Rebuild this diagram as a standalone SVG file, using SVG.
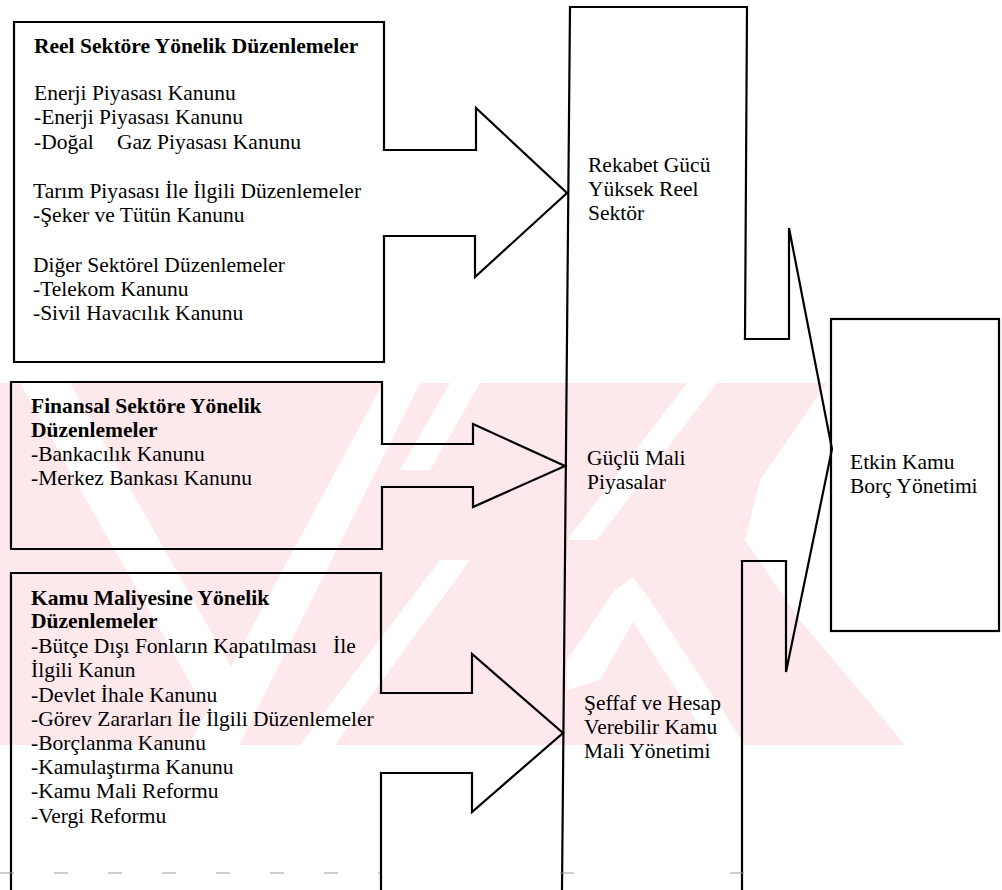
<svg xmlns="http://www.w3.org/2000/svg" width="1002" height="890" viewBox="0 0 1002 890">
<style>
.ln{fill:none;stroke:#000;stroke-width:2.2;stroke-linejoin:miter;stroke-linecap:square}
.t{font-family:"Liberation Serif","Times New Roman",serif;font-size:21.5px;fill:#000}
.b{font-weight:bold}
.wm{fill:#fde8ec}
.ws{fill:#ffffff}
.dash{fill:none;stroke:#9a9a9a;stroke-width:1;stroke-dasharray:14 40}
</style>
<defs>
<clipPath id="band"><rect x="0" y="383" width="1002" height="362"/></clipPath>
</defs>
<rect x="0" y="0" width="1002" height="890" fill="#fff"/>
<g id="watermark" clip-path="url(#band)">
<polygon class="wm" points="0,383 827,383 760,480 745,540 800,620 905,745 0,745"/>
<polygon class="ws" points="20,383 70,383 250,700 200,700"/>
<polygon class="ws" points="189,745 239,745 420,383 383,383"/>
<polygon class="ws" points="400,470 430,470 480,383 450,383"/>
<polygon class="ws" points="567,540 597,540 717,383 687,383"/>
<polygon class="ws" points="633,577 650,600 745,745 712,745 633,622 600,680 567,690 567,660 615,590"/>
<polygon class="ws" points="300,745 335,745 470,560 440,560"/>
</g>
<g id="connectors">
<path class="ln" d="M384,150 H476 V108 L567,193 L475,277 V236 H384"/>
<path class="ln" d="M382,444 H473 V424 L565,466 L473,507 V487 H382"/>
<path class="ln" d="M381,693 H472 V654 L563,733 L472,812 V773 H381"/>
<path class="ln" d="M745,339 H789 V228 L832,449 L786,672 V561 H742"/>
</g>
<g id="reel">
<path class="ln" d="M384,150 V22 H14 V362 H384 V236"/>
<text class="t b" x="34" y="53">Reel Sektöre Yönelik Düzenlemeler</text>
<text class="t" x="34" y="100">Enerji Piyasası Kanunu</text>
<text class="t" x="34" y="124">-Enerji Piyasası Kanunu</text>
<text class="t" y="149"><tspan x="34">-Doğal</tspan><tspan x="117">Gaz Piyasası Kanunu</tspan></text>
<text class="t" x="33" y="198">Tarım Piyasası İle İlgili Düzenlemeler</text>
<text class="t" x="33" y="222">-Şeker ve Tütün Kanunu</text>
<text class="t" x="33" y="272">Diğer Sektörel Düzenlemeler</text>
<text class="t" x="33" y="296">-Telekom Kanunu</text>
<text class="t" x="33" y="320">-Sivil Havacılık Kanunu</text>
</g>
<g id="finansal">
<path class="ln" d="M382,444 V382 H11 V549 H382 V487"/>
<text class="t b" x="31" y="413">Finansal Sektöre Yönelik</text>
<text class="t b" x="31" y="437">Düzenlemeler</text>
<text class="t" x="31" y="461">-Bankacılık Kanunu</text>
<text class="t" x="31" y="485">-Merkez Bankası Kanunu</text>
</g>
<g id="kamu">
<path class="ln" d="M381,693 V573 H11 V890"/>
<path class="ln" d="M381,773 V890"/>
<text class="t b" x="31" y="605">Kamu Maliyesine Yönelik</text>
<text class="t b" x="31" y="628">Düzenlemeler</text>
<text class="t" y="653"><tspan x="31">-Bütçe Dışı Fonların Kapatılması</tspan><tspan x="333">İle</tspan></text>
<text class="t" x="31" y="677">İlgili Kanun</text>
<text class="t" x="31" y="702">-Devlet İhale Kanunu</text>
<text class="t" x="31" y="726">-Görev Zararları İle İlgili Düzenlemeler</text>
<text class="t" x="31" y="750">-Borçlanma Kanunu</text>
<text class="t" x="31" y="774">-Kamulaştırma Kanunu</text>
<text class="t" x="31" y="798">-Kamu Mali Reformu</text>
<text class="t" x="31" y="823">-Vergi Reformu</text>
</g>
<g id="hedefler">
<path class="ln" d="M745,339 L747,7 H570 L562,890"/>
<path class="ln" d="M742,561 V890"/>
<text class="t" x="588" y="172">Rekabet Gücü</text>
<text class="t" x="588" y="196">Yüksek Reel</text>
<text class="t" x="588" y="220">Sektör</text>
<text class="t" x="587" y="465">Güçlü Mali</text>
<text class="t" x="587" y="489">Piyasalar</text>
<text class="t" x="584" y="710">Şeffaf ve Hesap</text>
<text class="t" x="584" y="734">Verebilir Kamu</text>
<text class="t" x="584" y="758">Mali Yönetimi</text>
</g>
<g id="etkin">
<rect class="ln" x="831" y="319" width="168" height="312"/>
<text class="t" x="850" y="469">Etkin Kamu</text>
<text class="t" x="850" y="493">Borç Yönetimi</text>
</g>
<path class="dash" d="M0,873 H380 M560,873 H590 M730,873 H745"/>
</svg>
